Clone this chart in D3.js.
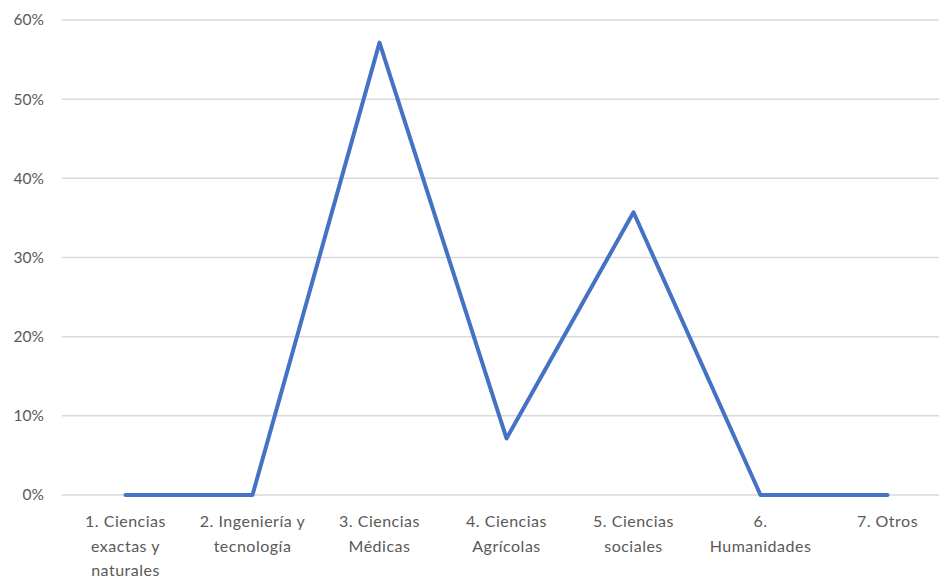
<!DOCTYPE html>
<html>
<head>
<meta charset="utf-8">
<script src="https://cdn.jsdelivr.net/npm/d3@7"></script>
<style>
  html, body { margin: 0; padding: 0; background: #fff; }
  svg { display: block; }
</style>
</head>
<body>
<svg id="chart" width="939" height="580"></svg>
<script>
const categories = [
  ["1. Ciencias", "exactas y", "naturales"],
  ["2. Ingeniería y", "tecnología"],
  ["3. Ciencias", "Médicas"],
  ["4. Ciencias", "Agrícolas"],
  ["5. Ciencias", "sociales"],
  ["6.", "Humanidades"],
  ["7. Otros"]
];
const values = [0, 0, 0.5714, 0.0714, 0.3571, 0, 0];
const yTicks = [0, 0.1, 0.2, 0.3, 0.4, 0.5, 0.6];

const svg = d3.select("#chart");
const font = "Lato, 'Open Sans', sans-serif";
const textColor = "#595959";

const x = d3.scaleBand().domain(d3.range(categories.length)).range([62, 951]);
const y = d3.scaleLinear().domain([0, 0.6]).range([495, 20]);

// gridlines
svg.append("g").selectAll("line").data(yTicks).join("line")
  .attr("x1", 62).attr("x2", 939)
  .attr("y1", d => y(d)).attr("y2", d => y(d))
  .attr("stroke", "#d9d9d9").attr("stroke-width", 1.5);

// y labels
svg.append("g").selectAll("text").data(yTicks).join("text")
  .attr("x", 44).attr("y", d => y(d)).attr("dy", "0.35em")
  .attr("text-anchor", "end")
  .attr("font-family", font).attr("font-size", 15.5).attr("fill", textColor)
  .text(d => d3.format(".0%")(d));

// x labels
const xl = svg.append("g").selectAll("text").data(categories).join("text")
  .attr("text-anchor", "middle")
  .attr("font-family", font).attr("font-size", 16).attr("letter-spacing", 0.5)
  .attr("fill", textColor)
  .attr("transform", (d, i) => `translate(${x(i) + x.bandwidth() / 2},527)`);
xl.selectAll("tspan").data(d => d).join("tspan")
  .attr("x", 0).attr("dy", (d, i) => i === 0 ? 0 : 24.5)
  .text(d => d);

// line
const line = d3.line()
  .x((d, i) => x(i) + x.bandwidth() / 2)
  .y(d => y(d));
svg.append("path").datum(values)
  .attr("d", line)
  .attr("fill", "none")
  .attr("stroke", "#4472C4")
  .attr("stroke-width", 4)
  .attr("stroke-linejoin", "round")
  .attr("stroke-linecap", "round");
</script>
</body>
</html>
